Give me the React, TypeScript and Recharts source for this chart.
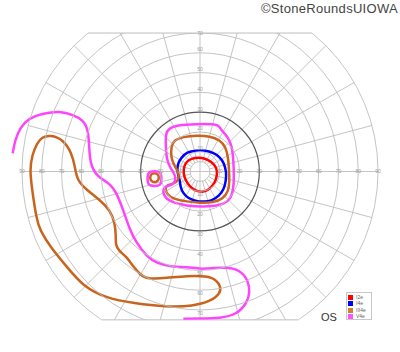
import { ComposedChart, XAxis, YAxis, Line, ReferenceDot, ReferenceLine } from "recharts";

// Goldmann perimetry, left eye. Points are in visual-field degrees (x: right +, y: up +)
const W = 400;
const H = 352;
const X_DOMAIN: [number, number] = [-100, 100];
const Y_DOMAIN: [number, number] = [-75, 70];
const CENTER = { x: 200, y: 171.5 };
const PX_PER_DEG = 1.978;
const margin = {
  left: CENTER.x + X_DOMAIN[0] * PX_PER_DEG,
  right: W - (CENTER.x + X_DOMAIN[1] * PX_PER_DEG),
  top: CENTER.y - Y_DOMAIN[1] * PX_PER_DEG,
  bottom: H - (CENTER.y - Y_DOMAIN[0] * PX_PER_DEG),
};

const rings = [5, 10, 20, 30, 40, 50, 60, 70, 80, 90];
const meridians = [0, 15, 30, 45, 60, 75, 90, 105, 120, 135, 150, 165, 180, 195, 210, 225, 240, 255, 270, 285, 300, 315, 330, 345];
const hLabels = [10, 20, 30, 40, 50, 60, 70, 80, 90];
const vLabels = [10, 20, 30, 40, 50, 60, 70];

const stimuli = ["I2e", "I4e", "III4e", "V4e"];
const colors = ["#ff0000", "#0000ff", "#c8641e", "#ff44ff"];
const swatches = ["#ff0000", "#0000ff", "#d07f35", "#ff55ff"];

const i2e: [number, number][] = [
  [-5.9, 5.8], [-2.5, 7.0], [0.9, 7.0], [4.2, 5.8], [6.7, 4.1], [8.4, 1.6], [8.7, -0.9],
  [8.1, -4.3], [6.7, -6.8], [4.2, -9.4], [1.7, -10.4], [-1.7, -10.0], [-4.2, -8.5],
  [-6.4, -6.0], [-8.1, -2.6], [-8.4, 0.8], [-7.6, 3.8],
];

const i4e: [number, number][] = [
  [-9.6, 6.8], [-6.6, 9.9], [-2.0, 10.6], [2.5, 10.6], [6.6, 9.6], [10.1, 7.3], [12.1, 4.3],
  [13.4, -0.3], [13.1, -4.8], [12.1, -9.0], [9.6, -12.4], [6.1, -14.7], [2.0, -15.4],
  [-2.5, -14.9], [-6.1, -13.4], [-8.6, -10.9], [-9.9, -7.8], [-10.1, -4.8], [-10.9, -2.3],
  [-11.6, 0.8], [-11.1, 4.3],
];

const iii4eCentral: [number, number][] = [
  [-13.5, 15.6], [-8.4, 17.6], [-1.7, 18.2], [5.1, 17.9], [10.1, 15.9], [12.9, 12.5],
  [14.2, 7.5], [14.7, 0.8], [14.9, -5.3], [14.4, -9.9], [11.6, -13.9], [6.7, -15.7],
  [0, -15.9], [-6.7, -15.2], [-13.5, -13.9], [-16.8, -11.4], [-17.7, -8.5], [-16.7, -6.8],
  [-13.5, -6.3], [-11.0, -4.7], [-10.5, -1.8], [-11.8, 1.1], [-13.5, 4.1], [-14.7, 7.5],
  [-14.5, 12.5],
];

const iii4eIsland: [number, number][] = [
  [-20.6, -3.1], [-21.3, -1.3], [-23, -0.6], [-24.7, -1.3], [-25.4, -3.1],
  [-24.7, -4.9], [-23, -5.6], [-21.3, -4.9],
];

const iii4ePeriph: [number, number][] = [
  [-75.8, 18.5], [-69.1, 16.2], [-64.9, 9.4], [-63.2, 2.4], [-62.2, -4.3], [-57.3, -9.4],
  [-50.6, -14.4], [-45.5, -19.5], [-43.0, -26.0], [-42.5, -32.6], [-42.7, -37.2],
  [-41.0, -40.2], [-37.1, -43.1], [-33.7, -48.1], [-30.3, -52.1], [-26.8, -54.4],
  [-16.8, -53.8], [-6.7, -52.8], [3.4, -52.8], [8.4, -54.8], [10.6, -58.4], [10.1, -61.9],
  [5.1, -65.7], [-3.4, -68.0], [-16.8, -68.5], [-33.7, -66.6], [-47.2, -64.1],
  [-59.0, -58.2], [-67.4, -48.1], [-75.8, -38.0], [-80.9, -29.6], [-82.6, -24.5],
  [-85.1, -7.7], [-86.0, 0.8], [-84.9, 8.3], [-82.4, 14.4], [-79.9, 17.4],
];

const v4eCentral: [number, number][] = [
  [-16.0, 21.5], [-11.8, 23.5], [-1.7, 24.0], [6.6, 24.0], [9.6, 23.3], [11.0, 20.5],
  [14.2, 17.4], [16.2, 12.5], [16.9, 5.8], [17.2, -2.6], [16.9, -9.4], [15.2, -14.4],
  [10.6, -17.2], [1.7, -17.9], [-6.7, -17.4], [-15.2, -15.4], [-18.6, -11.9], [-18.7, -8.5],
  [-16.7, -7.3], [-14.2, -6.8], [-12.4, -5.2], [-12.4, -1.8], [-14.9, 1.6], [-16.9, 5.8],
  [-17.4, 14.3], [-17.2, 19.3],
];

const v4eIsland: [number, number][] = [
  [-19.4, -3.6], [-19.7, -0.1], [-23, 0.2], [-26.3, -0.1], [-26.6, -3.6],
  [-26.3, -7.1], [-23, -7.4], [-19.7, -7.1],
];

const v4ePeriph: [number, number][] = [
  [-94.7, 9.2], [-93.5, 15.9], [-91.0, 22.0], [-86.8, 26.9], [-79.2, 29.4], [-70.8, 30.6],
  [-64.1, 28.6], [-59.0, 26.0], [-56.5, 21.0], [-56.0, 12.5], [-55.6, 4.1], [-52.2, -2.6],
  [-45.5, -6.0], [-42.1, -11.0], [-38.8, -19.5], [-35.4, -29.6], [-32.4, -35.6],
  [-26.9, -43.1], [-21.9, -46.4], [-13.5, -48.4], [-6.7, -48.1], [0, -49.4], [6.6, -48.8],
  [13.5, -48.4], [20.2, -49.8], [24.4, -54.9], [25.3, -61.6], [23.6, -66.6], [18.6, -72.3],
  [10.1, -74.2], [0, -74.4], [-8.4, -74.4],
];

const toPts = (arr: [number, number][]) => arr.map(([x, y]) => ({ x, y }));
const rad = (deg: number) => (deg * Math.PI) / 180;

const GRID = "#bdbdbd";
const LABEL = { fontSize: 5, fill: "#9a9a9a", fontFamily: "Liberation Sans, Arial, sans-serif" };

const isopters = [
  { key: "i2e", data: i2e, color: colors[0], closed: true },
  { key: "i4e", data: i4e, color: colors[1], closed: true },
  { key: "iii4e-c", data: iii4eCentral, color: colors[2], closed: true },
  { key: "iii4e-i", data: iii4eIsland, color: colors[2], closed: true },
  { key: "iii4e-p", data: iii4ePeriph, color: colors[2], closed: true },
  { key: "v4e-c", data: v4eCentral, color: colors[3], closed: true },
  { key: "v4e-i", data: v4eIsland, color: colors[3], closed: true },
  { key: "v4e-p", data: v4ePeriph, color: colors[3], closed: false },
];

export default function App() {
  const topX = Math.sqrt(90 * 90 - Y_DOMAIN[1] * Y_DOMAIN[1]);
  const botX = Math.sqrt(90 * 90 - Y_DOMAIN[0] * Y_DOMAIN[0]);
  return (
    <div style={{ position: "absolute", left: 0, top: 0, width: W, height: H, fontFamily: "Liberation Sans, Arial, sans-serif" }}>
      <ComposedChart width={W} height={H} margin={margin}>
        <XAxis dataKey="x" type="number" domain={X_DOMAIN} allowDataOverflow hide />
        <YAxis dataKey="y" type="number" domain={Y_DOMAIN} allowDataOverflow hide />

        {rings.map((r) => (
          <ReferenceDot
            key={`ring-${r}`}
            x={0}
            y={0}
            r={r * PX_PER_DEG}
            fill="none"
            stroke={r === 30 ? "#555" : GRID}
            strokeWidth={r === 30 ? 1.2 : 0.9}
            ifOverflow="hidden"
          />
        ))}
        {meridians.map((m) => {
          const start = m % 90 === 0 ? 0 : 5;
          return (
            <ReferenceLine
              key={`mer-${m}`}
              segment={[
                { x: start * Math.cos(rad(m)), y: start * Math.sin(rad(m)) },
                { x: 90 * Math.cos(rad(m)), y: 90 * Math.sin(rad(m)) },
              ]}
              stroke={GRID}
              strokeWidth={0.9}
              ifOverflow="hidden"
            />
          );
        })}
        <ReferenceLine segment={[{ x: -topX, y: Y_DOMAIN[1] }, { x: topX, y: Y_DOMAIN[1] }]} stroke={GRID} strokeWidth={1} ifOverflow="visible" />
        <ReferenceLine segment={[{ x: -botX, y: Y_DOMAIN[0] }, { x: botX, y: Y_DOMAIN[0] }]} stroke={GRID} strokeWidth={1} ifOverflow="visible" />

        {hLabels.flatMap((v) => [
          <ReferenceDot key={`hl-${v}`} x={-v} y={0} r={0} fill="none" stroke="none" ifOverflow="visible" label={{ value: String(v), position: "center", ...LABEL }} />,
          <ReferenceDot key={`hr-${v}`} x={v} y={0} r={0} fill="none" stroke="none" ifOverflow="visible" label={{ value: String(v), position: "center", ...LABEL }} />,
        ])}
        {vLabels.flatMap((v) => [
          <ReferenceDot key={`vt-${v}`} x={0} y={v} r={0} fill="none" stroke="none" ifOverflow="visible" label={{ value: String(v), position: v === 70 ? "center" : "top", offset: 1.5, ...LABEL }} />,
          <ReferenceDot key={`vb-${v}`} x={0} y={-v} r={0} fill="none" stroke="none" ifOverflow="visible" label={{ value: String(v), position: "bottom", offset: 1.5, ...LABEL }} />,
        ])}

        {isopters.map((iso) => (
          <Line
            key={iso.key}
            data={toPts(iso.data)}
            dataKey="y"
            type={iso.closed ? "basisClosed" : "basis"}
            stroke={iso.color}
            strokeWidth={2.5}
            dot={false}
            activeDot={false}
            isAnimationActive={false}
          />
        ))}
      </ComposedChart>

      <div style={{ position: "absolute", right: 2, top: 1, fontSize: 13, color: "#444", letterSpacing: 0.3, whiteSpace: "nowrap" }}>
        ©StoneRoundsUIOWA
      </div>
      <div style={{ position: "absolute", left: 321, top: 311, fontSize: 11, color: "#333" }}>OS</div>
      <div
        style={{
          position: "absolute",
          left: 346,
          top: 292,
          width: 26,
          height: 28,
          border: "1px solid #c8c8c8",
          background: "#fff",
          boxSizing: "border-box",
          padding: "1px 1px",
        }}
      >
        {stimuli.map((s, i) => (
          <div key={s} style={{ display: "flex", alignItems: "center", height: 6.5 }}>
            <span style={{ width: 5, height: 5, background: swatches[i], display: "inline-block", marginRight: 3 }} />
            <span style={{ fontSize: 5, color: "#666", lineHeight: "5px" }}>{s}</span>
          </div>
        ))}
      </div>
    </div>
  );
}
